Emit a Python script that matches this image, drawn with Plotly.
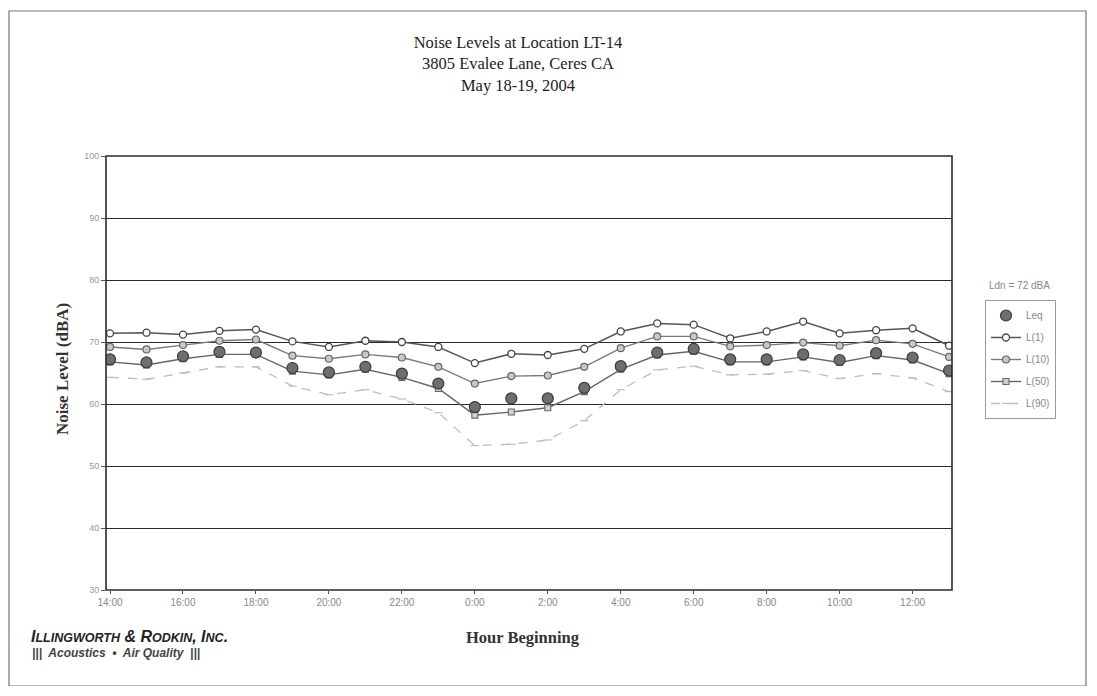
import plotly.graph_objects as go

hours = ["14:00", "15:00", "16:00", "17:00", "18:00", "19:00", "20:00", "21:00",
         "22:00", "23:00", "0:00", "1:00", "2:00", "3:00", "4:00", "5:00",
         "6:00", "7:00", "8:00", "9:00", "10:00", "11:00", "12:00", "13:00"]

leq = [67.2, 66.7, 67.7, 68.4, 68.3, 65.8, 65.1, 66.0, 64.9, 63.3, 59.5, 60.9,
       60.9, 62.6, 66.1, 68.3, 68.9, 67.2, 67.2, 68.0, 67.1, 68.2, 67.5, 65.4]
l1 = [71.4, 71.5, 71.2, 71.8, 72.0, 70.1, 69.2, 70.2, 70.0, 69.2, 66.6, 68.1,
      67.9, 68.9, 71.7, 73.0, 72.8, 70.6, 71.7, 73.3, 71.4, 71.9, 72.2, 69.4]
l10 = [69.2, 68.8, 69.5, 70.2, 70.4, 67.8, 67.3, 68.0, 67.5, 66.0, 63.3, 64.5,
       64.6, 66.0, 69.0, 70.9, 70.9, 69.3, 69.5, 69.9, 69.4, 70.3, 69.7, 67.6]
l50 = [66.8, 66.3, 67.3, 68.0, 68.0, 65.3, 64.7, 65.6, 64.3, 62.5, 58.2, 58.7,
       59.4, 62.0, 65.6, 67.9, 68.5, 66.8, 66.8, 67.6, 66.7, 67.8, 67.1, 64.9]
l90 = [64.3, 64.0, 65.0, 66.0, 66.0, 62.9, 61.5, 62.3, 60.8, 58.6, 53.3, 53.5,
       54.2, 57.3, 62.3, 65.5, 66.1, 64.7, 64.8, 65.4, 64.1, 64.9, 64.2, 62.0]

tick_labels = hours[::2]
y_ticks = [30, 40, 50, 60, 70, 80, 90, 100]

# page body has an 8px margin; work in screen coordinates and shift
OFF = 8
W, H = 1080, 678
L, R, T, B = 106 - OFF, 952 - OFF, 156 - OFF, 590 - OFF
pw, ph = R - L, B - T


def px(x):
    return (x - OFF - L) / pw


def py(y):
    return (B - (y - OFF)) / ph


fig = go.Figure()

fig.add_trace(go.Scatter(
    x=hours, y=leq, name="Leq", mode="markers", zorder=5, legendgroup="a",
    marker=dict(symbol="circle", size=11, color="#6e6e6e",
                line=dict(color="#3a3a3a", width=1.2))))
fig.add_trace(go.Scatter(
    x=hours, y=l1, name="L(1)", mode="lines+markers", zorder=4, legendgroup="b",
    line=dict(color="#555555", width=1.5),
    marker=dict(symbol="circle", size=7, color="white",
                line=dict(color="#444444", width=1.3))))
fig.add_trace(go.Scatter(
    x=hours, y=l10, name="L(10)", mode="lines+markers", zorder=3, legendgroup="c",
    line=dict(color="#7a7a7a", width=1.4),
    marker=dict(symbol="circle", size=7, color="#c8c8c8",
                line=dict(color="#666666", width=1.2))))
fig.add_trace(go.Scatter(
    x=hours, y=l50, name="L(50)", mode="lines+markers", zorder=2, legendgroup="d",
    line=dict(color="#666666", width=1.4),
    marker=dict(symbol="square", size=6, color="#d0d0d0",
                line=dict(color="#666666", width=1.1))))
fig.add_trace(go.Scatter(
    x=hours, y=l90, name="L(90)", mode="lines+markers", zorder=1, legendgroup="e",
    line=dict(color="#bdbdbd", width=1.3, dash="dash"),
    marker=dict(symbol="line-ew", size=6, color="#bdbdbd",
                line=dict(color="#bdbdbd", width=1.2))))

serif = "Liberation Serif, Times New Roman, serif"
sans = "Liberation Sans, Arial, sans-serif"


def note(text, x, y, font, xanchor="center", **kw):
    return dict(text=text, x=px(x), y=py(y), xref="paper", yref="paper",
                xanchor=xanchor, yanchor="middle", showarrow=False, font=font, **kw)


fig.update_layout(
    width=W, height=H,
    margin=dict(l=L, r=W - R, t=T, b=H - B),
    paper_bgcolor="white", plot_bgcolor="white",
    title=dict(text="Noise Levels at Location LT-14<br>3805 Evalee Lane, Ceres CA<br>May 18-19, 2004",
               x=(518 - OFF) / W, xanchor="center", y=1 - (48 - OFF) / H, yanchor="middle",
               font=dict(family=serif, size=16.5, color="#222222")),
    showlegend=True,
    legend=dict(x=px(985), y=py(300), xanchor="left", yanchor="top",
                bgcolor="white", bordercolor="#9a9a9a", borderwidth=1,
                font=dict(family=sans, size=10, color="#888888"),
                itemwidth=30, traceorder="grouped", tracegroupgap=3,
                entrywidth=62, entrywidthmode="pixels"),
    xaxis=dict(type="category", range=[-0.11, 23.08],
               tickmode="array", tickvals=tick_labels, ticktext=tick_labels,
               showgrid=False, showline=False,
               ticks="outside", ticklen=3, tickcolor="#555555",
               tickfont=dict(family=sans, size=10, color="#888888"),
               zeroline=False),
    yaxis=dict(range=[30, 100], tickmode="array", tickvals=y_ticks,
               showgrid=True, gridcolor="#2a2a2a", gridwidth=1.3,
               showline=False,
               ticks="outside", ticklen=4, tickcolor="#555555",
               tickfont=dict(family=sans, size=9, color="#999999"),
               zeroline=False),
    shapes=[
        dict(type="rect", xref="paper", yref="paper", x0=0, x1=1, y0=0, y1=1,
             line=dict(color="#2a2a2a", width=1.6), layer="above"),
        dict(type="rect", xref="paper", yref="paper",
             x0=px(9), x1=px(1086), y0=py(686), y1=py(11),
             line=dict(color="#777777", width=1.2)),
    ],
    annotations=[
        note("<b>Noise Level (dBA)</b>", 62, 369,
             dict(family=serif, size=17, color="#333333"), textangle=-90),
        note("<b>Hour Beginning</b>", 523, 637,
             dict(family=serif, size=16.5, color="#333333")),
        note("Ldn = 72 dBA", 1020, 285,
             dict(family=sans, size=10, color="#888888")),
        note("<b><i>I<span style='font-size:12.5px'>LLINGWORTH</span> &amp; R<span style='font-size:12.5px'>ODKIN</span>, I<span style='font-size:12.5px'>NC</span>.</i></b>",
             29, 636, dict(family=sans, size=16, color="#222222"), xanchor="left"),
        note("<b><i>|||  Acoustics  •  Air Quality  |||</i></b>", 30, 653,
             dict(family=sans, size=12, color="#444444"), xanchor="left"),
    ],
)

fig.write_html("out.html")
